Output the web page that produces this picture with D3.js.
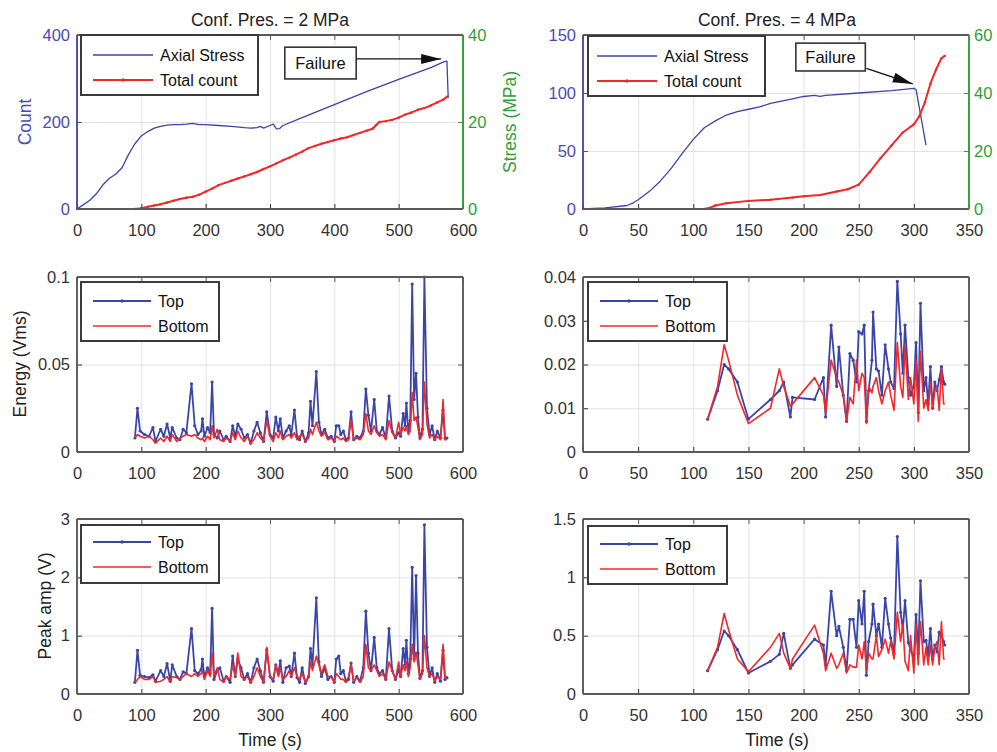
<!DOCTYPE html>
<html><head><meta charset="utf-8">
<script src="https://d3js.org/d3.v7.min.js"></script>
<style>body{margin:0;background:#fff}</style>
</head><body>
<svg id="c" width="997" height="752"></svg>
<script>
// ---------------- DATA ----------------
// Top-left (Conf. Pres. = 2 MPa): axial stress (MPa, right axis) and total count (left axis)
const tlStressT = [0,10,20,30,40,50,60,70,80,90,100,110,120,130,140,150,160,170,180,190,200,220,240,260,270,280,285,290,300,305,310,315,320,350,400,450,500,550,570,575,577];
const tlStressV = [0,1.0,2.0,3.5,5.5,7.0,8.0,9.5,12.5,15.0,16.8,17.8,18.6,19.0,19.3,19.4,19.4,19.5,19.7,19.4,19.4,19.2,19.0,18.7,18.6,18.7,19.0,18.6,19.2,19.5,18.4,18.5,19.2,21.0,24.0,27.0,29.8,32.5,33.8,34.0,25.5];
const tlCountT = [0,90,100,110,120,130,140,150,160,170,180,190,200,210,220,230,240,250,260,270,280,290,300,310,320,330,340,350,360,370,380,390,400,410,420,430,440,450,460,465,470,480,490,500,510,520,530,540,550,560,570,575];
const tlCountV = [0,0,2,5,8,11,15,19,23,26,28,33,40,47,55,60,65,70,75,80,85,92,98,105,112,118,125,132,140,145,150,154,158,162,165,170,175,180,185,193,200,202,205,210,217,222,228,232,238,245,252,258];

// Top-right (Conf. Pres. = 4 MPa): axial stress (MPa, left axis) and total count (right axis)
const trStressT = [0,20,40,45,50,60,70,80,90,100,110,120,130,140,150,160,170,180,190,200,210,215,220,250,280,300,302,311];
const trStressV = [0,1,3,5,8,15,24,35,48,60,70,76,81,84,86,88,91,93,95,97,98,97,98,100,102,104,103,55];
const trCountT = [0,110,115,120,130,150,170,190,200,215,230,240,250,260,270,280,290,300,305,310,315,320,325,328];
const trCountV = [0,0,0.4,1.2,2,2.8,3.2,4,4.4,4.8,6,6.8,8.4,12.8,17.6,22,26.4,29.2,32,36.8,43.2,48,52,52.8];

// Left column event times (2 MPa)
const timesL = [90,94,98,105,112,118,122,130,135,140,145,148,155,160,165,170,178,183,188,193,195,198,203,207,210,213,218,222,228,232,238,242,246,250,255,260,265,270,275,280,285,290,295,300,305,309,313,316,320,325,330,333,338,342,346,350,355,360,363,366,372,376,380,385,390,395,400,403,407,410,414,418,422,426,430,435,440,445,449,453,457,462,466,470,475,480,485,490,495,500,503,507,510,512,515,518,521,524,527,530,533,537,540,544,548,552,556,560,565,569,572,575];
const energyTopL = [.008,.025,.012,.010,.009,.014,.006,.013,.009,.016,
 .008,.014,.008,.007,.013,.011,.039,.015,.010,.012,
 .019,.009,.014,.011,.040,.010,.008,.012,.007,.009,
 .006,.015,.009,.016,.013,.008,.010,.005,.012,.017,
 .011,.006,.023,.010,.008,.020,.012,.019,.008,.012,
 .015,.010,.024,.009,.007,.012,.006,.011,.029,.015,
 .046,.017,.010,.013,.008,.009,.006,.015,.015,.010,
 .012,.007,.008,.023,.007,.009,.008,.012,.036,.021,
 .012,.030,.012,.010,.014,.008,.032,.012,.008,.011,
 .009,.022,.015,.028,.012,.018,.096,.030,.045,.020,
 .008,.013,.100,.025,.010,.015,.007,.012,.008,.024,
 .008,.008];
const energyBotL = [.008,.010,.009,.008,.009,.007,.005,.008,.006,.009,
 .006,.010,.006,.008,.009,.010,.009,.010,.008,.007,
 .008,.006,.009,.007,.015,.008,.013,.007,.006,.008,
 .006,.011,.007,.012,.008,.006,.009,.005,.007,.011,
 .008,.006,.018,.009,.006,.011,.008,.012,.007,.009,
 .010,.008,.011,.007,.009,.010,.006,.008,.013,.010,
 .017,.012,.009,.011,.007,.008,.006,.009,.008,.007,
 .008,.006,.007,.018,.007,.008,.007,.010,.022,.012,
 .010,.015,.011,.009,.010,.007,.018,.011,.008,.017,
 .010,.014,.012,.015,.010,.012,.034,.018,.020,.014,
 .007,.010,.040,.016,.008,.010,.007,.009,.007,.030,
 .007,.007];
const ampTopL = [.2,.75,.32,.3,.28,.33,.22,.4,.3,.52,
 .22,.5,.3,.25,.38,.35,1.12,.4,.35,.42,
 .6,.3,.45,.35,1.47,.25,.4,.45,.22,.3,
 .2,.65,.3,.6,.45,.25,.35,.2,.45,.6,
 .4,.2,.76,.3,.22,.5,.35,.57,.2,.45,
 .48,.3,.7,.28,.2,.45,.18,.3,.78,.5,
 1.65,.55,.3,.45,.25,.3,.2,.6,.65,.35,
 .4,.22,.25,.53,.2,.3,.22,.45,1.42,.7,
 .4,.97,.45,.35,.4,.25,1.12,.4,.25,.42,
 .3,.78,.5,.92,.35,.6,2.17,.6,2.03,.7,
 .27,.4,2.9,.8,.3,.45,.2,.35,.22,.75,
 .25,.28];
const ampBotL = [.2,.25,.3,.25,.25,.3,.2,.22,.25,.3,
 .2,.3,.28,.25,.3,.35,.3,.35,.3,.35,
 .4,.25,.4,.3,.7,.3,.45,.25,.2,.3,
 .25,.5,.3,.7,.3,.25,.3,.2,.3,.45,
 .3,.2,.8,.3,.25,.5,.3,.45,.25,.3,
 .4,.3,.45,.3,.25,.35,.2,.3,.55,.4,
 .65,.5,.35,.5,.3,.3,.2,.35,.3,.25,
 .25,.2,.3,.5,.22,.28,.2,.3,.85,.45,
 .4,.5,.4,.3,.35,.25,.55,.4,.25,.55,
 .3,.5,.4,.55,.3,.45,.85,.55,.72,.5,
 .25,.35,1.0,.45,.3,.35,.22,.3,.25,.85,
 .3,.25];

// Right column event times (4 MPa)
const timesR = [113,122,128,132,140,150,170,178,182,188,190,210,218,220,225,230,232,236,239,242,245,248,250,253,255,257,259,262,263,266,268,271,274,277,279,282,285,288,290,292,295,297,300,302,304,306,309,311,313,315,317,319,321,323,325,327,328];
const energyTopR = [.0075,.014,.020,.019,.016,.0075,.012,.014,.016,.008,
 .0125,.012,.017,.008,.029,.015,.024,.013,.007,.0225,
 .021,.016,.0275,.027,.029,.007,.014,.021,.032,.019,
 .0185,.013,.0245,.019,.016,.0145,.039,.027,.018,.029,
 .017,.013,.015,.025,.009,.034,.014,.017,.011,.0195,
 .010,.016,.014,.0165,.0195,.016,.0155];
const energyBotR = [.0075,.015,.0245,.021,.013,.0065,.010,.019,.015,.0105,
 .011,.017,.013,.009,.021,.017,.016,.013,.007,.0125,
 .011,.021,.014,.018,.017,.0065,.015,.0135,.015,.017,
 .014,.011,.014,.016,.013,.0095,.025,.015,.0125,.0245,
 .012,.017,.011,.021,.007,.023,.010,.012,.0095,.016,
 .010,.014,.015,.0095,.019,.011,.011];
const ampTopR = [.2,.38,.54,.5,.38,.18,.28,.34,.52,.22,
 .25,.47,.42,.25,.88,.5,.58,.4,.2,.64,
 .64,.4,.8,.6,.88,.16,.45,.6,.77,.5,
 .6,.4,.82,.6,.48,.35,1.35,.7,.55,.8,
 .44,.38,.3,.68,.35,.97,.45,.46,.33,.56,
 .3,.42,.36,.53,.5,.45,.42];
const ampBotR = [.2,.4,.69,.55,.3,.19,.4,.52,.35,.22,
 .3,.59,.35,.2,.35,.22,.25,.35,.18,.25,
 .23,.23,.42,.3,.45,.2,.35,.3,.3,.5,
 .32,.38,.47,.35,.45,.3,.7,.45,.6,.28,
 .2,.5,.18,.6,.25,.62,.25,.4,.25,.42,
 .25,.4,.45,.25,.62,.3,.3];

// Tick values
const xTicksL = [0,100,200,300,400,500,600];
const xTicksR = [0,50,100,150,200,250,300,350];
const tlYTicks = [0,200,400], tlY2Ticks = [0,20,40];
const trYTicks = [0,50,100,150], trY2Ticks = [0,20,40,60];
const energyTicksL = [0,0.05,0.1], energyTicksR = [0,0.01,0.02,0.03,0.04];
const ampTicksL = [0,1,2,3], ampTicksR = [0,0.5,1,1.5];

// ---------------- DRAWING ----------------
const FONT = '"Liberation Sans", Arial, Helvetica, sans-serif';
const BLUE = "#3a45a8", RED = "#f0282a", GREEN = "#2f9e36", FRAME = "#5a5a5a", TXT = "#333", GRID = "#e2e2e2";
const AXBLUE = "#4a4ab4";
const svg = d3.select("#c");
svg.append("rect").attr("width",997).attr("height",752).attr("fill","#fff");
const defs = svg.append("defs");
defs.append("marker").attr("id","arr").attr("markerUnits","userSpaceOnUse")
  .attr("viewBox","0 0 20 10").attr("refX",20).attr("refY",5)
  .attr("markerWidth",20).attr("markerHeight",11).attr("orient","auto")
  .append("path").attr("d","M0,0 L20,5 L0,10 Z").attr("fill","#111");

function styleAx(sel, color, fs){
  sel.attr("font-family", FONT).attr("font-size", fs || 16.5);
  sel.select(".domain").remove();
  sel.selectAll(".tick line").attr("stroke", color).attr("stroke-width", 1);
  sel.selectAll(".tick text").attr("fill", color);
}

function panel(o){
  const x = d3.scaleLinear().domain(o.xd).range([o.l, o.r]);
  const y = d3.scaleLinear().domain(o.yd).range([o.b, o.t]);
  const g = svg.append("g");
  g.append("g").attr("transform",`translate(0,${o.b})`)
    .call(d3.axisBottom(x).tickValues(o.xt.slice(1,-1)).tickSize(-(o.b-o.t)).tickFormat(""))
    .call(s=>{s.select(".domain").remove(); s.selectAll("line").attr("stroke",GRID);});
  g.append("g").attr("transform",`translate(${o.l},0)`)
    .call(d3.axisLeft(y).tickValues(o.yt.slice(1,-1)).tickSize(-(o.r-o.l)).tickFormat(""))
    .call(s=>{s.select(".domain").remove(); s.selectAll("line").attr("stroke",GRID);});
  const data = svg.append("g");
  const axes = svg.append("g");
  return {x, y, o, data, axes};
}

function drawAxes(p, leftColor, rightScale, rightTicks, rightColor){
  const {x, y, o, axes} = p;
  axes.append("g").attr("transform",`translate(0,${o.b})`)
    .call(d3.axisBottom(x).tickValues(o.xt).tickSizeInner(-5).tickSizeOuter(0).tickPadding(15).tickFormat(d=>String(d)))
    .call(s=>styleAx(s, TXT));
  axes.append("g").attr("transform",`translate(0,${o.t})`)
    .call(d3.axisTop(x).tickValues(o.xt).tickSizeInner(-5).tickSizeOuter(0).tickFormat(""))
    .call(s=>styleAx(s, FRAME));
  axes.append("g").attr("transform",`translate(${o.l},0)`)
    .call(d3.axisLeft(y).tickValues(o.yt).tickSizeInner(-5).tickSizeOuter(0).tickPadding(7).tickFormat(d=>String(d)))
    .call(s=>styleAx(s, leftColor || TXT));
  const rs = rightScale || y, rt = rightTicks || o.yt;
  axes.append("g").attr("transform",`translate(${o.r},0)`)
    .call(d3.axisRight(rs).tickValues(rt).tickSizeInner(-5).tickSizeOuter(0).tickPadding(5).tickFormat(rightScale ? (d=>String(d)) : ""))
    .call(s=>styleAx(s, rightColor || FRAME));
  const fw = 1.9;
  axes.append("line").attr("x1",o.l).attr("x2",o.r).attr("y1",o.b).attr("y2",o.b).attr("stroke",FRAME).attr("stroke-width",fw);
  axes.append("line").attr("x1",o.l).attr("x2",o.r).attr("y1",o.t).attr("y2",o.t).attr("stroke",FRAME).attr("stroke-width",fw);
  axes.append("line").attr("x1",o.l).attr("x2",o.l).attr("y1",o.t).attr("y2",o.b).attr("stroke",leftColor || FRAME).attr("stroke-width",fw);
  axes.append("line").attr("x1",o.r).attr("x2",o.r).attr("y1",o.t).attr("y2",o.b).attr("stroke",rightColor || FRAME).attr("stroke-width",fw);
}

function series(p, xs, ys, yScale, color, width, dotR){
  const pts = xs.map((t,i)=>[t, ys[i]]);
  const line = d3.line().x(d=>p.x(d[0])).y(d=>yScale(d[1]));
  p.data.append("path").datum(pts).attr("d",line).attr("fill","none")
    .attr("stroke",color).attr("stroke-width",width).attr("stroke-linejoin","round");
  if (dotR){
    p.data.selectAll(null).data(pts).join("circle")
      .attr("cx",d=>p.x(d[0])).attr("cy",d=>yScale(d[1])).attr("r",dotR).attr("fill",color);
  }
}

function legend(b, items){
  const g = svg.append("g");
  g.append("rect").attr("x",b.x).attr("y",b.y).attr("width",b.w).attr("height",b.h)
    .attr("fill","#fff").attr("stroke","#3a3a3a").attr("stroke-width",2);
  items.forEach((it,i)=>{
    const yy = b.rows[i];
    g.append("line").attr("x1",b.lx1).attr("x2",b.lx2).attr("y1",yy).attr("y2",yy)
      .attr("stroke",it.color).attr("stroke-width",it.w);
    if (it.dot) g.append("circle").attr("cx",(b.lx1+b.lx2)/2).attr("cy",yy).attr("r",1.7).attr("fill",it.color);
    g.append("text").attr("x",b.tx).attr("y",yy).attr("dy","0.36em").text(it.label)
      .attr("font-family",FONT).attr("font-size",16).attr("fill","#111");
  });
}

function annotate(p, yScale, box, arrow){
  const g = svg.append("g");
  const x0 = p.x(box[0]), x1 = p.x(box[1]), y0 = yScale(box[3]), y1 = yScale(box[2]);
  g.append("line").attr("x1",p.x(arrow[0])).attr("y1",yScale(arrow[1]))
    .attr("x2",p.x(arrow[2])).attr("y2",yScale(arrow[3]))
    .attr("stroke","#111").attr("stroke-width",1.3).attr("marker-end","url(#arr)");
  g.append("rect").attr("x",x0).attr("y",y0).attr("width",x1-x0).attr("height",y1-y0)
    .attr("fill","#fff").attr("stroke","#333").attr("stroke-width",1.6);
  g.append("text").attr("x",(x0+x1)/2).attr("y",(y0+y1)/2).attr("dy","0.36em")
    .attr("text-anchor","middle").attr("font-family",FONT).attr("font-size",16.5).attr("fill","#111").text("Failure");
}

function label(txt, x, y, rot, color, fs){
  svg.append("text").attr("transform",`translate(${x},${y}) rotate(${rot})`)
    .attr("text-anchor","middle").attr("dy","0.36em").attr("font-family",FONT)
    .attr("font-size",fs||17.5).attr("fill",color||"#222").text(txt);
}

// ---- Top-left ----
const TL = panel({l:77,r:463,t:35,b:209,xd:[0,600],xt:xTicksL,yd:[0,400],yt:tlYTicks});
const tlY2 = d3.scaleLinear().domain([0,40]).range([209,35]);
series(TL, tlStressT, tlStressV, tlY2, BLUE, 1.3);
series(TL, tlCountT, tlCountV, TL.y, RED, 2, 1.2);
drawAxes(TL, AXBLUE, tlY2, tlY2Ticks, GREEN);
legend({x:81,y:35,w:177,h:60,rows:[55,80],lx1:93,lx2:153,tx:160},
  [{label:"Axial Stress",color:BLUE,w:1.3},{label:"Total count",color:RED,w:2,dot:true}]);
annotate(TL, TL.y, [323,434,299,372], [434,345,566,345]);

// ---- Top-right ----
const TR = panel({l:583,r:969,t:35,b:209,xd:[0,350],xt:xTicksR,yd:[0,150],yt:trYTicks});
const trY2 = d3.scaleLinear().domain([0,60]).range([209,35]);
series(TR, trStressT, trStressV, TR.y, BLUE, 1.3);
series(TR, trCountT, trCountV, trY2, RED, 2, 1.2);
drawAxes(TR, AXBLUE, trY2, trY2Ticks, GREEN);
legend({x:588,y:36,w:177,h:60,rows:[56,81],lx1:597,lx2:657,tx:664},
  [{label:"Axial Stress",color:BLUE,w:1.3},{label:"Total count",color:RED,w:2,dot:true}]);
annotate(TR, TR.y, [193,256,119,143], [257,121.3,299,107.8]);

// ---- Middle-left ----
const ML = panel({l:77,r:463,t:277,b:452,xd:[0,600],xt:xTicksL,yd:[0,0.1],yt:energyTicksL});
series(ML, timesL, energyTopL, ML.y, BLUE, 1.8, 1.6);
series(ML, timesL, energyBotL, ML.y, RED, 1.6);
drawAxes(ML);
legend({x:81,y:282,w:138,h:59,rows:[301,326],lx1:93,lx2:151,tx:158},
  [{label:"Top",color:BLUE,w:1.8,dot:true},{label:"Bottom",color:RED,w:1.7}]);

// ---- Middle-right ----
const MR = panel({l:583,r:969,t:277,b:452,xd:[0,350],xt:xTicksR,yd:[0,0.04],yt:energyTicksR});
series(MR, timesR, energyTopR, MR.y, BLUE, 1.8, 1.6);
series(MR, timesR, energyBotR, MR.y, RED, 1.6);
drawAxes(MR);
legend({x:588,y:282,w:139,h:59,rows:[301,326],lx1:600,lx2:658,tx:665},
  [{label:"Top",color:BLUE,w:1.8,dot:true},{label:"Bottom",color:RED,w:1.7}]);

// ---- Bottom-left ----
const BL = panel({l:77,r:463,t:519,b:694,xd:[0,600],xt:xTicksL,yd:[0,3],yt:ampTicksL});
series(BL, timesL, ampTopL, BL.y, BLUE, 1.8, 1.6);
series(BL, timesL, ampBotL, BL.y, RED, 1.6);
drawAxes(BL);
legend({x:81,y:525,w:138,h:58,rows:[542,567],lx1:93,lx2:151,tx:158},
  [{label:"Top",color:BLUE,w:1.8,dot:true},{label:"Bottom",color:RED,w:1.7}]);

// ---- Bottom-right ----
const BR = panel({l:583,r:969,t:519,b:694,xd:[0,350],xt:xTicksR,yd:[0,1.5],yt:ampTicksR});
series(BR, timesR, ampTopR, BR.y, BLUE, 1.8, 1.6);
series(BR, timesR, ampBotR, BR.y, RED, 1.6);
drawAxes(BR);
legend({x:588,y:526,w:139,h:58,rows:[544,569],lx1:600,lx2:658,tx:665},
  [{label:"Top",color:BLUE,w:1.8,dot:true},{label:"Bottom",color:RED,w:1.7}]);

// ---- Titles and axis labels ----
svg.append("text").attr("x",270).attr("y",26).attr("text-anchor","middle").attr("font-family",FONT)
  .attr("font-size",17.5).attr("fill","#222").text("Conf. Pres. = 2 MPa");
svg.append("text").attr("x",777).attr("y",26).attr("text-anchor","middle").attr("font-family",FONT)
  .attr("font-size",17.5).attr("fill","#222").text("Conf. Pres. = 4 MPa");
label("Count", 25, 122, -90, AXBLUE);
label("Stress (MPa)", 510, 122, -90, GREEN);
label("Energy (Vms)", 20, 364, -90);
label("Peak amp (V)", 45, 606, -90);
label("Time (s)", 270, 740, 0);
label("Time (s)", 777, 740, 0);
</script>
</body></html>
